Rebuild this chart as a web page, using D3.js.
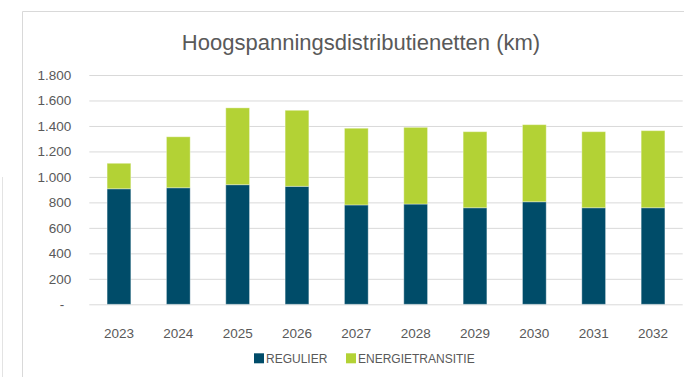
<!DOCTYPE html>
<html>
<head>
<meta charset="utf-8">
<script src="https://cdn.jsdelivr.net/npm/d3@7"></script>
<style>
  html, body { margin: 0; padding: 0; background: #fff; }
  svg { display: block; font-family: "Liberation Sans", Arial, sans-serif; }
</style>
</head>
<body>
<svg id="chart" width="684" height="377"></svg>
<script>
// Kilometres of high-voltage distribution grid per year
const years = ["2023", "2024", "2025", "2026", "2027", "2028", "2029", "2030", "2031", "2032"];
const regulier = [907, 915, 939, 926, 780, 787, 758, 805, 758, 758];
const energietransitie = [200, 400, 603, 597, 602, 602, 597, 605, 597, 605];
const seriesNames = ["REGULIER", "ENERGIETRANSITIE"];
const seriesColors = ["#004c69", "#b3d235"];
const yTicks = [0, 200, 400, 600, 800, 1000, 1200, 1400, 1600, 1800];
const title = "Hoogspanningsdistributienetten (km)";

const svg = d3.select("#chart");
const textColor = "#595959";
const gridColor = "#d9d9d9";

// outer frame of the chart area
svg.append("path")
  .attr("d", "M22.5,377 V11.5 H684")
  .attr("fill", "none")
  .attr("stroke", gridColor)
  .attr("stroke-width", 1);
svg.append("line")
  .attr("x1", 2.5).attr("x2", 2.5).attr("y1", 177).attr("y2", 377)
  .attr("stroke", "#e3e3e3").attr("stroke-width", 1);

// title
svg.append("text")
  .attr("x", 361).attr("y", 49.5)
  .attr("text-anchor", "middle")
  .attr("fill", textColor)
  .attr("font-size", 22)
  .text(title);

const x = d3.scaleBand()
  .domain(years)
  .range([89.3, 682.7])
  .paddingInner(0.6)
  .paddingOuter(0.3);

const y = d3.scaleLinear()
  .domain([0, 1800])
  .range([304.3, 75]);

const fmt = v => v === 0 ? "-" : d3.format(",")(v).replace(/,/g, ".");

// horizontal gridlines
const yAxis = d3.axisLeft(y)
  .tickValues(yTicks)
  .tickSize(-(682.7 - 89.3))
  .tickPadding(18)
  .tickFormat(fmt);
const gy = svg.append("g")
  .attr("transform", "translate(89.3,0)")
  .call(yAxis);
gy.select(".domain").remove();
gy.selectAll(".tick line")
  .attr("stroke", gridColor)
  .attr("stroke-width", 1);
gy.selectAll(".tick text")
  .attr("fill", textColor)
  .attr("font-size", 13.5)
  .attr("font-family", "Liberation Sans, Arial, sans-serif")
  .attr("dx", d => d === 0 ? -7 : 0);

// stacked bars
const rows = years.map((yr, i) => ({ year: yr, REGULIER: regulier[i], ENERGIETRANSITIE: energietransitie[i] }));
const stacked = d3.stack().keys(seriesNames)(rows);

svg.append("g")
  .selectAll("g")
  .data(stacked)
  .join("g")
  .attr("fill", (d, i) => seriesColors[i])
  .selectAll("rect")
  .data(d => d)
  .join("rect")
  .attr("x", d => x(d.data.year))
  .attr("width", x.bandwidth())
  .attr("y", d => y(d[1]))
  .attr("height", d => y(d[0]) - y(d[1]))
  .attr("stroke", "#ffffff")
  .attr("stroke-opacity", 0.35)
  .attr("stroke-width", 1);

// category axis labels
const xAxis = d3.axisBottom(x).tickSize(0).tickPadding(0);
const gx = svg.append("g")
  .attr("transform", "translate(0,304.3)")
  .call(xAxis);
gx.select(".domain").remove();
gx.selectAll(".tick text")
  .attr("fill", textColor)
  .attr("font-size", 13.5)
  .attr("font-family", "Liberation Sans, Arial, sans-serif")
  .attr("dy", 0)
  .attr("y", 34);

// legend
const legendItems = [
  { name: seriesNames[0], color: seriesColors[0], x: 254 },
  { name: seriesNames[1], color: seriesColors[1], x: 346 }
];
const lg = svg.append("g");
legendItems.forEach(it => {
  lg.append("rect")
    .attr("x", it.x).attr("y", 353.3)
    .attr("width", 10).attr("height", 10)
    .attr("fill", it.color);
  lg.append("text")
    .attr("x", it.x + 12).attr("y", 362.8)
    .attr("fill", textColor)
    .attr("font-size", 12)
    .text(it.name);
});
</script>
</body>
</html>
